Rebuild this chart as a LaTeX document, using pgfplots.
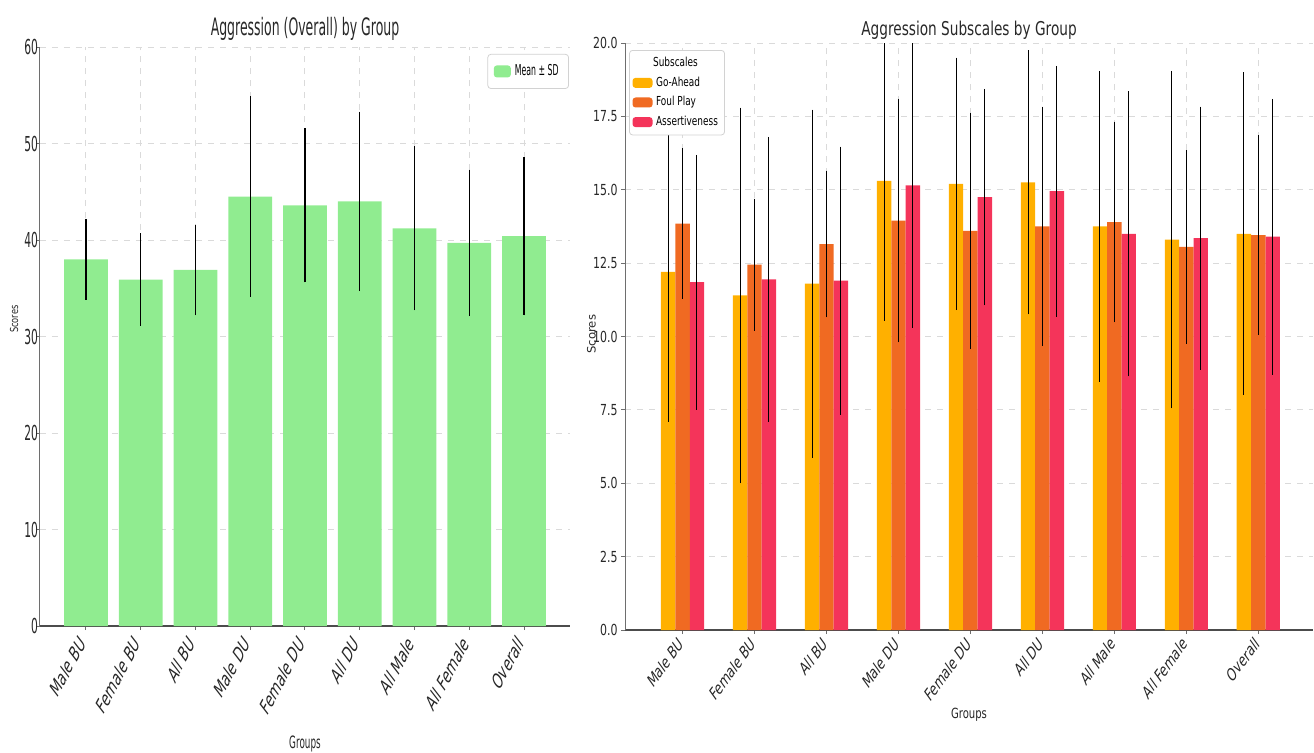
\documentclass[border=0pt]{standalone}
\usepackage{pgfplots}
\pgfplotsset{compat=1.18}
\usepackage{pgfplotstable}
\usepackage{fontspec}
\setmainfont{DejaVu Sans}
% narrow faces for the two panels
\newfontfamily\Lfont{DejaVu Sans}[FakeStretch=0.52]
\newfontfamily\LXfont{DejaVu Sans}[FakeStretch=0.88,FakeSlant=0.45]
\newfontfamily\LYfont{DejaVu Sans}[FakeStretch=0.75]
\newfontfamily\Rfont{DejaVu Sans}[FakeStretch=0.72]
\newfontfamily\RXfont{DejaVu Sans}[FakeStretch=0.87,FakeSlant=0.33]

\definecolor{meanGreen}{RGB}{144,236,144}
\definecolor{goAhead}{RGB}{255,176,0}
\definecolor{foulPlay}{RGB}{240,106,34}
\definecolor{assertive}{RGB}{244,52,90}
\definecolor{spineGray}{RGB}{110,110,110}
\definecolor{gridGray}{RGB}{218,218,218}
\definecolor{textGray}{RGB}{40,40,40}

% overall aggression score: group index, mean, SD
\pgfplotstableread{
g mean sd
0 38.0 4.2
1 35.9 4.8
2 36.9 4.7
3 44.5 10.4
4 43.6 8.0
5 44.0 9.3
6 41.2 8.5
7 39.7 7.6
8 40.4 8.2
}\overallTable

% subscales: Go-Ahead, Foul Play, Assertiveness (mean and SD)
\pgfplotstableread{
g ga gasd fp fpsd as assd
0 12.20 5.10 13.85 2.57 11.85 4.34
1 11.40 6.40 12.45 2.25 11.95 4.85
2 11.80 5.93 13.15 2.50 11.90 4.57
3 15.30 4.77 13.95 4.15 15.15 4.85
4 15.20 4.30 13.60 4.03 14.75 3.69
5 15.25 4.50 13.75 4.08 14.95 4.27
6 13.75 5.30 13.90 3.42 13.50 4.86
7 13.30 5.75 13.05 3.30 13.35 4.48
8 13.50 5.50 13.45 3.40 13.40 4.70
}\subTable

\pgfplotsset{
  panel/.style={
    scale only axis,
    anchor=south west,
    axis x line*=bottom,
    axis y line*=left,
    axis line style={-},
    ymin=0,
    xtick={0,...,8},
    xticklabels={Male BU,Female BU,All BU,Male DU,Female DU,All DU,All Male,All Female,Overall},
    xmajorgrids, ymajorgrids,
    major grid style={gridGray, dashed, line width=0.5pt},
    tick align=outside,
    major tick length=2pt,
    tick style={spineGray, line width=0.5pt},
    legend cell align=left,
    /pgf/number format/assume math mode=true,
    label style={text=textGray},
    ticklabel style={text=textGray},
  },
  sd bars/.style={
    error bars/y dir=both,
    error bars/y explicit,
    error bars/error mark=none,
    error bars/error bar style={black, line width=#1},
  },
}

\begin{document}
\begin{tikzpicture}
\useasboundingbox (0,0) rectangle (657pt,376pt);

% ---- overall score per group ----
\begin{axis}[
  panel,
  at={(20pt,63pt)},
  width=265pt, height=289.5pt,
  xmin=-0.84, xmax=8.84,
  ymax=60, ytick={0,10,...,60},
  x axis line style={line width=1pt, black!70},
  y axis line style={line width=0.5pt, spineGray},
  title={Aggression (Overall) by Group},
  title style={yshift=-6.5pt, text=textGray, font=\Lfont\fontsize{12}{14}\selectfont},
  xlabel={Groups},
  ylabel={Scores},
  xlabel style={at={(axis description cs:0.5,-0.204)}, anchor=center, font=\Lfont\fontsize{8.5}{10}\selectfont},
  ylabel style={at={(axis description cs:-0.049,0.53)}, anchor=center, rotate=0, font=\LYfont\fontsize{5.5}{6}\selectfont},
  yticklabel style={font=\Lfont\fontsize{10.3}{12}\selectfont, inner sep=1pt, xshift=2.2pt},
  xticklabel style={xshift=-6pt, yshift=-3pt, rotate=62, anchor=north east, inner sep=1pt,
    font=\LXfont\fontsize{8.4}{10}\selectfont},
  legend style={at={(0.998,0.988)}, anchor=north east, draw=gray!35, rounded corners=1.5pt, fill=white,
    font=\Lfont\fontsize{7.5}{9}\selectfont, inner sep=3pt},
  legend image code/.code={\fill[#1] (0pt,-3pt) rectangle (8.5pt,3pt);},
]
\addplot[ybar, bar width=0.8, bar shift=0pt, fill=meanGreen, draw=none, sd bars=0.65pt]
  table[x=g, y=mean, y error=sd]{\overallTable};
\addlegendentry{Mean ± SD}
\end{axis}

% ---- subscales per group ----
\begin{axis}[
  panel,
  at={(312.5pt,61pt)},
  width=344pt, height=293.5pt,
  xmin=-0.8, xmax=8.76,
  ymax=20, ytick={0,2.5,...,20},
  yticklabel style={/pgf/number format/fixed, /pgf/number format/fixed zerofill,
    /pgf/number format/precision=1, font=\Rfont\fontsize{7.6}{9}\selectfont, inner sep=1.5pt},
  x axis line style={line width=1pt, black!70},
  y axis line style={line width=0.5pt, spineGray},
  title={Aggression Subscales by Group},
  title style={yshift=-8pt, text=textGray, font=\Rfont\fontsize{9.5}{11}\selectfont},
  xlabel={Groups},
  ylabel={Scores},
  xlabel style={at={(axis description cs:0.5,-0.145)}, anchor=center, font=\Rfont\fontsize{7}{8}\selectfont},
  ylabel style={at={(axis description cs:-0.0487,0.504)}, anchor=center, rotate=0, font=\fontsize{5.8}{7}\selectfont},
  xticklabel style={xshift=-4pt, rotate=54, anchor=north east, inner sep=1.5pt,
    font=\RXfont\fontsize{7.5}{9}\selectfont},
  legend style={at={(0.006,0.988)}, anchor=north west, draw=gray!35, rounded corners=1.5pt, fill=white,
    font=\Rfont\fontsize{6.2}{7.5}\selectfont, inner sep=1.5pt, row sep=0pt,
    nodes={inner sep=1.8pt}},
  legend image code/.code={\fill[#1] (0pt,-2.5pt) rectangle (10pt,2.5pt);},
]
\addlegendimage{empty legend}
\addlegendentry{\hspace{-1.5pt}Subscales}
\addplot[ybar, bar width=0.2, bar shift=0pt, fill=goAhead, draw=none, sd bars=0.5pt]
  table[x expr=\thisrow{g}-0.2, y=ga, y error=gasd]{\subTable};
\addlegendentry{Go-Ahead}
\addplot[ybar, bar width=0.2, bar shift=0pt, fill=foulPlay, draw=none, sd bars=0.5pt]
  table[x=g, y=fp, y error=fpsd]{\subTable};
\addlegendentry{Foul Play}
\addplot[ybar, bar width=0.2, bar shift=0pt, fill=assertive, draw=none, sd bars=0.5pt]
  table[x expr=\thisrow{g}+0.2, y=as, y error=assd]{\subTable};
\addlegendentry{Assertiveness}
\end{axis}
\end{tikzpicture}
\end{document}
